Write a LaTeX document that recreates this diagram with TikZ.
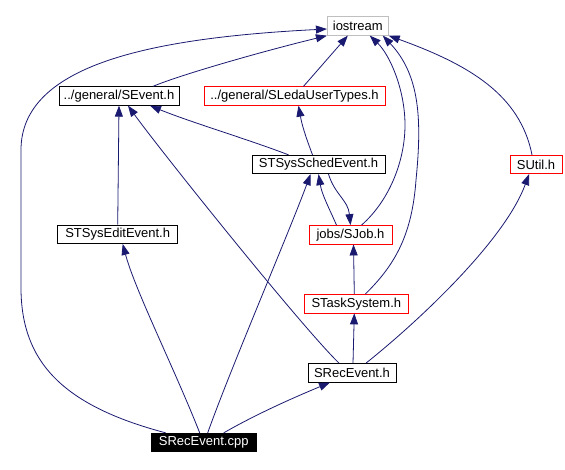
\documentclass[tikz,border=0pt]{standalone}
\usepackage{fontspec}
\setmainfont{Liberation Sans}
\usetikzlibrary{arrows.meta}
\definecolor{edgecol}{HTML}{191970}
\definecolor{greybox}{HTML}{BFBFBF}
\tikzset{
  box/.style={draw=black, line width=0.8bp, minimum height=18.5bp, inner sep=0pt,
    font=\fontsize{13bp}{15bp}\selectfont},
  redbox/.style={box, draw=red},
  greybx/.style={box, draw=greybox},
  rootbox/.style={box, fill=black, text=white},
  dep/.style={draw=edgecol, line width=0.8bp, -{Triangle[length=11bp,width=8bp]}}
}
\begin{document}
\begin{tikzpicture}[x=1bp,y=-1bp]
\useasboundingbox (0,0) rectangle (565,470);
% nodes
\node[greybx, minimum width=61bp]  (ios)   at (357.8,26)    {iostream};
\node[box, minimum width=120bp]    (sev)   at (119,96)      {../general/SEvent.h};
\node[redbox, minimum width=181bp] (sleda) at (294.5,96)    {../general/SLedaUserTypes.h};
\node[box, minimum width=133bp]    (sched) at (318.5,164.5) {STSysSchedEvent.h};
\node[redbox, minimum width=52bp]  (sutil) at (536,164.5)   {SUtil.h};
\node[box, minimum width=120bp]    (edit)  at (117.7,234.3) {STSysEditEvent.h};
\node[redbox, minimum width=83bp]  (sjob)  at (350.5,234.8) {jobs/SJob.h};
\node[redbox, minimum width=104bp] (stask) at (356.3,303.7) {STaskSystem.h};
\node[box, minimum width=88bp]     (srech) at (352,372.8)   {SRecEvent.h};
\node[rootbox, minimum width=105bp](cpp)   at (203.7,442.5) {SRecEvent.cpp};
% edges from SRecEvent.cpp
\draw[dep] ([xshift=-38bp]cpp.north) .. controls (60,405) and (22,360) .. (21,290)
   -- (21,150) .. controls (21,65) and (150,38) .. ([yshift=-3bp]ios.west);
\draw[dep] ([xshift=-4bp]cpp.north) .. controls (175,370) and (135,290) .. ([xshift=5bp]edit.south);
\draw[dep] ([xshift=4bp]cpp.north) .. controls (230,370) and (290,230) .. ([xshift=-8bp]sched.south);
\draw[dep] ([xshift=20bp]cpp.north) .. controls (260,412) and (300,395) .. ([xshift=-22bp]srech.south);
% edges from SRecEvent.h
\draw[dep] ([xshift=-13bp]srech.north) .. controls (300,325) and (160,150) .. ([xshift=9bp]sev.south);
\draw[dep] ([xshift=1bp]srech.north) -- ([xshift=-2bp]stask.south);
\draw[dep] ([xshift=14bp]srech.north) .. controls (420,320) and (505,240) .. ([xshift=-7bp]sutil.south);
% edges from STaskSystem.h
\draw[dep] ([xshift=-2bp]stask.north) -- ([xshift=3bp]sjob.south);
\draw[dep] ([xshift=9bp]stask.north) .. controls (395,265) and (412,235) .. (416,180)
   .. controls (422,120) and (420,75) .. ([xshift=25bp]ios.south);
% edges from jobs/SJob.h
\draw[dep] ([xshift=11bp]sjob.north) .. controls (390,200) and (405,160) .. (405,125)
   .. controls (405,90) and (390,55) .. ([xshift=12bp]ios.south);
\draw[dep] ([xshift=-14bp]sjob.north) .. controls (330,210) and (322,195) .. (sched.south);
% edges from STSysSchedEvent.h
\draw[dep] ([xshift=10bp]sched.south) .. controls (335,195) and (348,200) .. (sjob.north);
\draw[dep] ([xshift=-30bp]sched.north) .. controls (250,140) and (190,122) .. ([xshift=31bp]sev.south);
\draw[dep] ([xshift=-6bp]sched.north) .. controls (305,135) and (302,125) .. ([xshift=4bp]sleda.south);
% other edges
\draw[dep] (edit.north) -- (sev.south);
\draw[dep] ([xshift=34bp]sev.north) .. controls (180,75) and (260,52) .. (ios.south west);
\draw[dep] ([xshift=9bp]sleda.north) -- ([xshift=-10bp]ios.south);
\draw[dep] ([xshift=-4bp]sutil.north) .. controls (520,95) and (470,65) .. (ios.south east);
\end{tikzpicture}
\end{document}
